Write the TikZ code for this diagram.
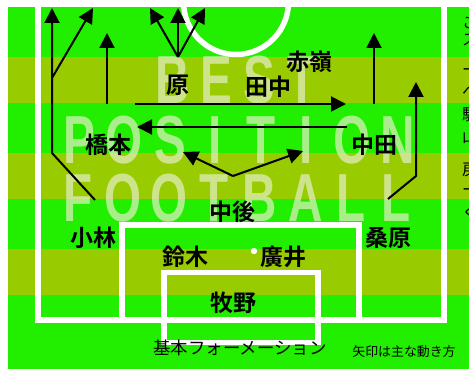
\documentclass[tikz,border=0pt]{standalone}
\usepackage{fontspec}
\setmainfont{Liberation Sans}
\newfontfamily\jp{Noto Sans CJK JP}
\newfontfamily\jpbold{Noto Sans CJK JP Bold}
\usetikzlibrary{arrows.meta}
\definecolor{turf}{RGB}{34,238,0}
\definecolor{turfdark}{RGB}{153,204,0}
\definecolor{chalkpale}{RGB}{228,238,200}

\begin{document}
\begin{tikzpicture}[x=1pt,y=-1pt,
  player/.style={font=\jpbold\fontsize{23}{23}\selectfont,inner sep=0pt},
  run/.style={line width=2pt,-{Triangle[length=15pt,width=15pt]}},
  chalk/.style={white,line width=5.5pt},
  ghost/.style={chalkpale,opacity=.7,font=\bfseries\fontsize{68}{68}\selectfont,xscale=.7,inner sep=0pt}]
  \useasboundingbox (0,0) rectangle (469,369);
  \clip (0,0) rectangle (469,369);
  \fill[white] (0,0) rectangle (469,369);
  \fill[turf] (8,7) rectangle (469,369);
  \foreach \y in {57,153,249} \fill[turfdark] (8,\y) rectangle (469,\y+46);

  \draw[chalk] (38,7) -- (38,320) -- (444,320) -- (444,7);
  \draw[chalk] (122,320) |- (359,225) -- (359,320);
  \draw[chalk] (164,342.5) -- (164,272.5) -- (318,272.5) -- (318,342.5) -- cycle;
  \begin{scope}
    \clip (8,7) rectangle (469,369);
    \draw[chalk] (236,2) circle[radius=52.5];
  \end{scope}
  \fill[white] (254,251) circle[radius=3.2];

  \foreach \ch [count=\i from 0] in {B,E,S,T} \node[ghost] (best\i) at (173+43*\i,80) {\ch};
  \foreach \ch [count=\i from 0] in {P,O,S,I,T,I,O,N} \node[ghost] (pos\i) at (79+45.5*\i,140) {\ch};
  \foreach \ch [count=\i from 0] in {F,O,O,T,B,A,L,L} \node[ghost] (ftb\i) at (78+45.5*\i,198) {\ch};

  \coordinate (kbFrom) at (95,200);
  \coordinate (kbBend) at (52,153);
  \coordinate (kbFork) at (52,78);
  \coordinate (kbUp) at (52,8);
  \coordinate (kbOut) at (93,8);
  \draw[run] (kbFrom) -- (kbBend) -- (kbUp);
  \draw[run] (kbFork) -- (kbOut);
  \draw[run] (107,104) coordinate (hmFrom) -- (107,33) coordinate (hmUp);
  \coordinate (hrFrom) at (178,57);
  \foreach \tx [count=\i] in {150,178,205} \draw[run] (hrFrom) -- (\tx,8) coordinate (hrTo\i);
  \draw[run] (135,104) coordinate (lineA) -- (346,104) coordinate (lineB);
  \draw[run] (374,104) coordinate (akFrom) -- (374,33) coordinate (akUp);
  \draw[run] (347,127) coordinate (lineC) -- (137,127) coordinate (lineD);
  \coordinate (ngFrom) at (233,176);
  \draw[run] (ngFrom) -- (183,152) coordinate (ngLeft);
  \draw[run] (ngFrom) -- (303,151) coordinate (ngRight);
  \coordinate (kwFrom) at (388,199);
  \coordinate (kwBend) at (416,176);
  \draw[run] (kwFrom) -- (kwBend) -- (416,82) coordinate (kwUp);

  \node[player] (hara) at (178,85) {原};
  \node[player] (tanaka) at (268,87) {田中};
  \node[player] (akamine) at (309,62) {赤嶺};
  \node[player] (hashimoto) at (108,145) {橋本};
  \node[player] (nakata) at (374,145) {中田};
  \node[player] (nakago) at (232,212) {中後};
  \node[player] (kobayashi) at (93,238) {小林};
  \node[player] (suzuki) at (185,257) {鈴木};
  \node[player] (hiroi) at (283,257) {廣井};
  \node[player] (kuwahara) at (388,238) {桑原};
  \node[player] (makino) at (233,303) {牧野};

  \node[font=\jp\fontsize{17.4}{17.4}\selectfont,inner sep=0pt] (caption) at (240,348) {基本フォーメーション};
  \node[font=\jp\fontsize{12.9}{12.9}\selectfont,inner sep=0pt] (legend) at (404,352) {矢印は主な動き方};
  \foreach \ch/\y [count=\i] in {こ/23,ス/40,ー/72,へ/92,駆/115,山/136,戻/170,ー/192,く/213}
    \node[font=\jp\fontsize{16}{16}\selectfont,inner sep=0pt,anchor=west] (side\i) at (462,\y) {\ch};
\end{tikzpicture}
\end{document}
